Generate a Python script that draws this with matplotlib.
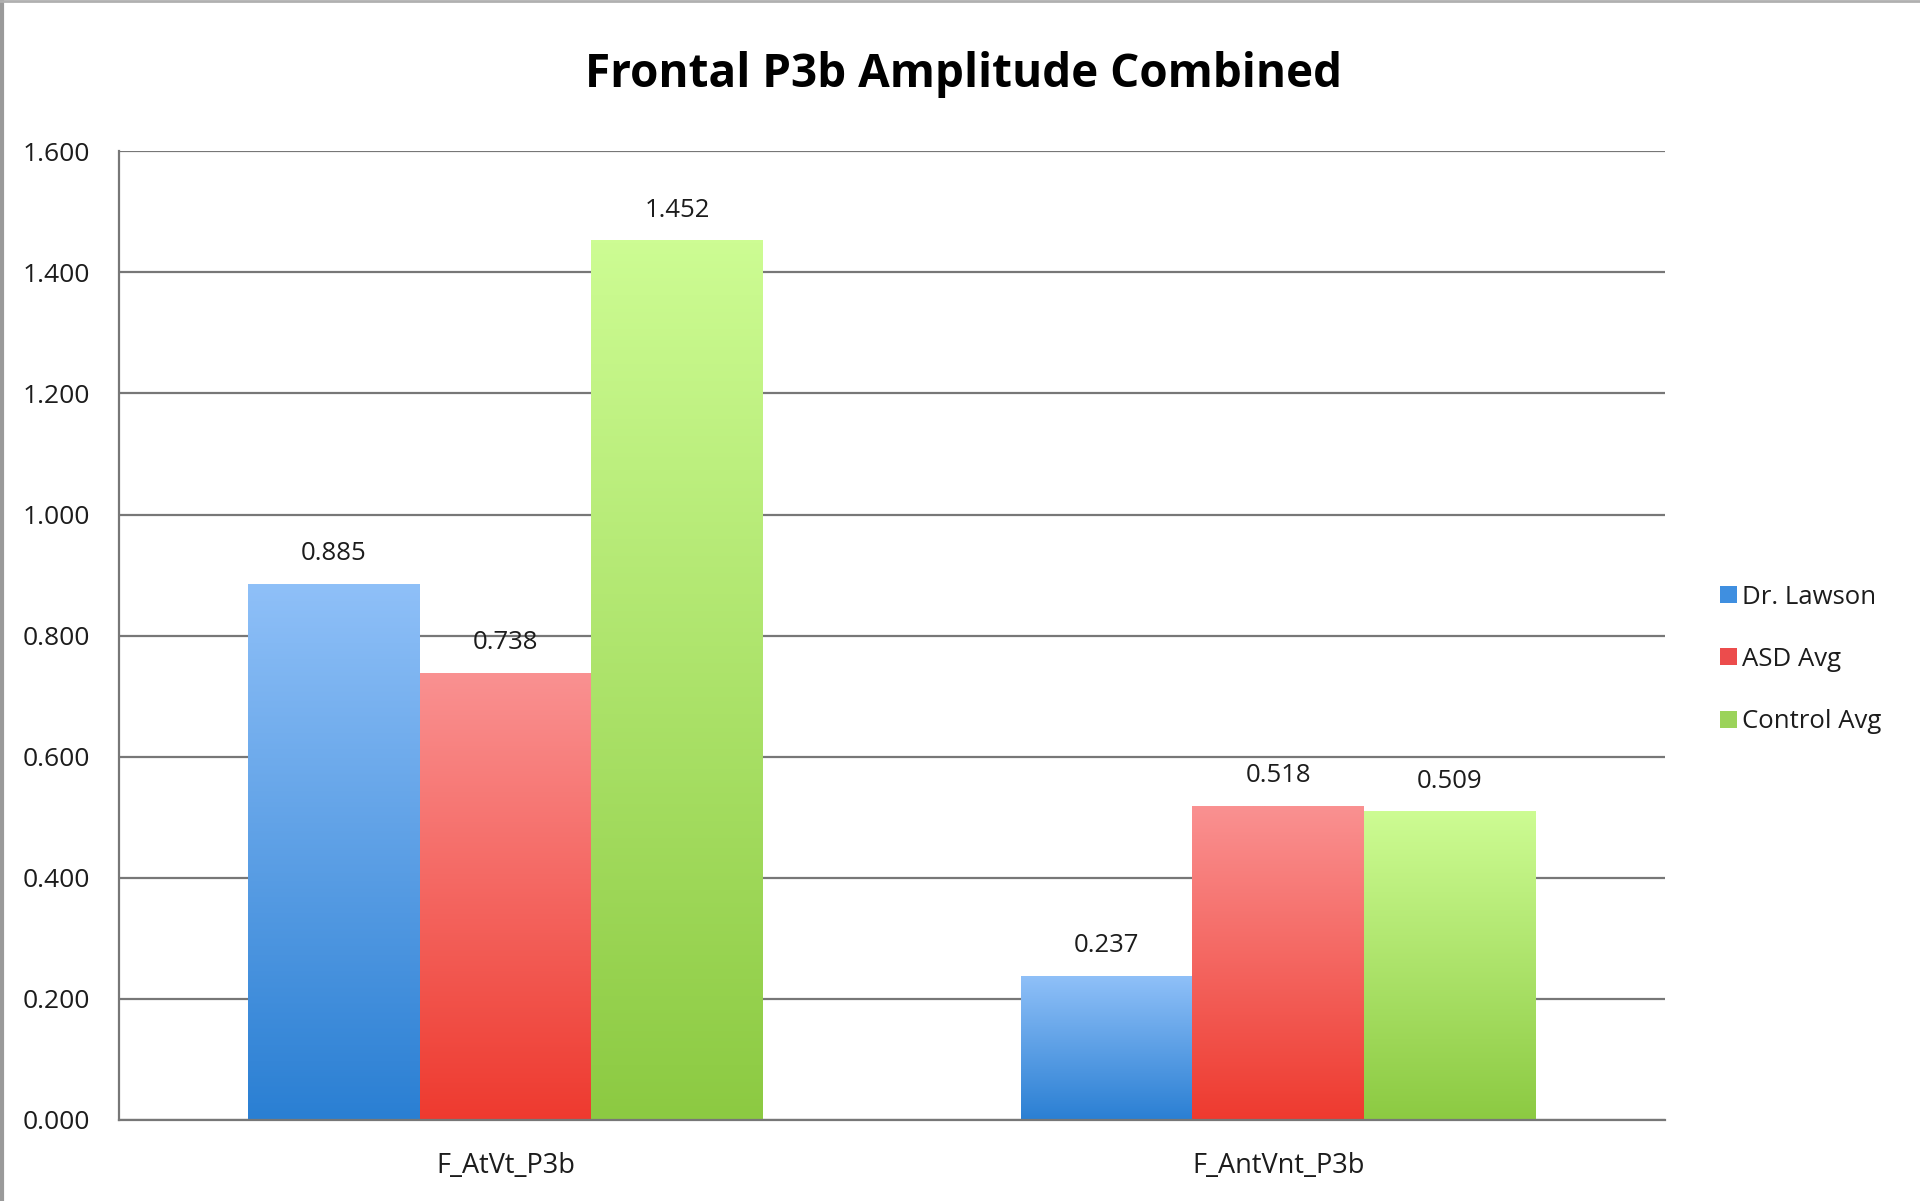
import matplotlib
matplotlib.use("Agg")
import matplotlib.pyplot as plt
import numpy as np
from matplotlib.colors import LinearSegmentedColormap
from matplotlib.patches import Patch

# amplitude values per condition
categories = ["F_AtVt_P3b", "F_AntVnt_P3b"]
series_names = ["Dr. Lawson", "ASD Avg", "Control Avg"]
lawson = [0.885, 0.237]
asd_avg = [0.738, 0.518]
control_avg = [1.452, 0.509]
y_ticks = [0.0, 0.2, 0.4, 0.6, 0.8, 1.0, 1.2, 1.4, 1.6]

# (top colour, bottom colour) for each series gradient
grad_colors = [("#8fc0f8", "#2a7fd3"),
               ("#fa9191", "#ee3a2f"),
               ("#cdfc93", "#8cca42")]
legend_colors = ["#3f8fe0", "#ec4c4c", "#9bd35a"]

plt.rcParams["font.family"] = ["Open Sans", "DejaVu Sans"]
text_col = "#1c1c1c"
grid_col = "#777777"

fig = plt.figure(figsize=(19.2, 12.01), dpi=100)
ax = fig.add_axes([0.062, 0.0675, 0.805, 0.8065])

values = [lawson, asd_avg, control_avg]
bar_w = 1 / 4.5
x = np.arange(len(categories))

for i, (vals, (c_top, c_bot)) in enumerate(zip(values, grad_colors)):
    cmap = LinearSegmentedColormap.from_list("g%d" % i, [c_bot, c_top])
    xs = x + (i - 1) * bar_w
    bars = ax.bar(xs, vals, bar_w, color="none", zorder=2)
    for rect, v in zip(bars, vals):
        x0 = rect.get_x()
        grad = np.linspace(0, 1, 256).reshape(-1, 1)
        ax.imshow(grad, cmap=cmap, origin="lower", aspect="auto",
                  extent=(x0, x0 + bar_w, 0, v), zorder=2)
        ax.annotate("%.3f" % v, (x0 + bar_w / 2, v), xytext=(0, 13),
                    textcoords="offset points", ha="center", va="bottom",
                    fontsize=18.5, color=text_col)

ax.set_xlim(-0.5, 1.5)
ax.set_ylim(0, 1.6)
ax.set_yticks(y_ticks)
ax.set_yticklabels(["%.3f" % t for t in y_ticks])
ax.set_xticks(x)
ax.set_xticklabels(categories)
ax.tick_params(axis="y", length=0, pad=21, labelsize=19, labelcolor=text_col)
ax.tick_params(axis="x", length=0, pad=23, labelsize=19.5, labelcolor=text_col)

ax.grid(axis="y", color=grid_col, linewidth=1.6, zorder=1)
ax.set_axisbelow(True)
for side in ["top", "right"]:
    ax.spines[side].set_visible(False)
for side in ["left", "bottom"]:
    ax.spines[side].set_color(grid_col)
    ax.spines[side].set_linewidth(1.6)

fig.text(0.502, 0.938, "Frontal P3b Amplitude Combined", ha="center",
         va="center", fontsize=33, fontweight="bold", color="black")

handles = [Patch(facecolor=c, edgecolor="none") for c in legend_colors]
fig.legend(handles, series_names, loc="center left",
           bbox_to_anchor=(0.884, 0.451), frameon=False, fontsize=18.5,
           handlelength=0.65, handleheight=0.65, handletextpad=0.2,
           labelspacing=1.45, labelcolor=text_col)

# thin frame along the top and left edge of the image
fig.add_artist(plt.Line2D([0.001, 0.001], [0, 1], transform=fig.transFigure,
                          color="#9a9a9a", linewidth=3))
fig.add_artist(plt.Line2D([0, 1], [0.999, 0.999], transform=fig.transFigure,
                          color="#b0b0b0", linewidth=2))

fig.savefig("out.png", dpi=100, facecolor="white")
